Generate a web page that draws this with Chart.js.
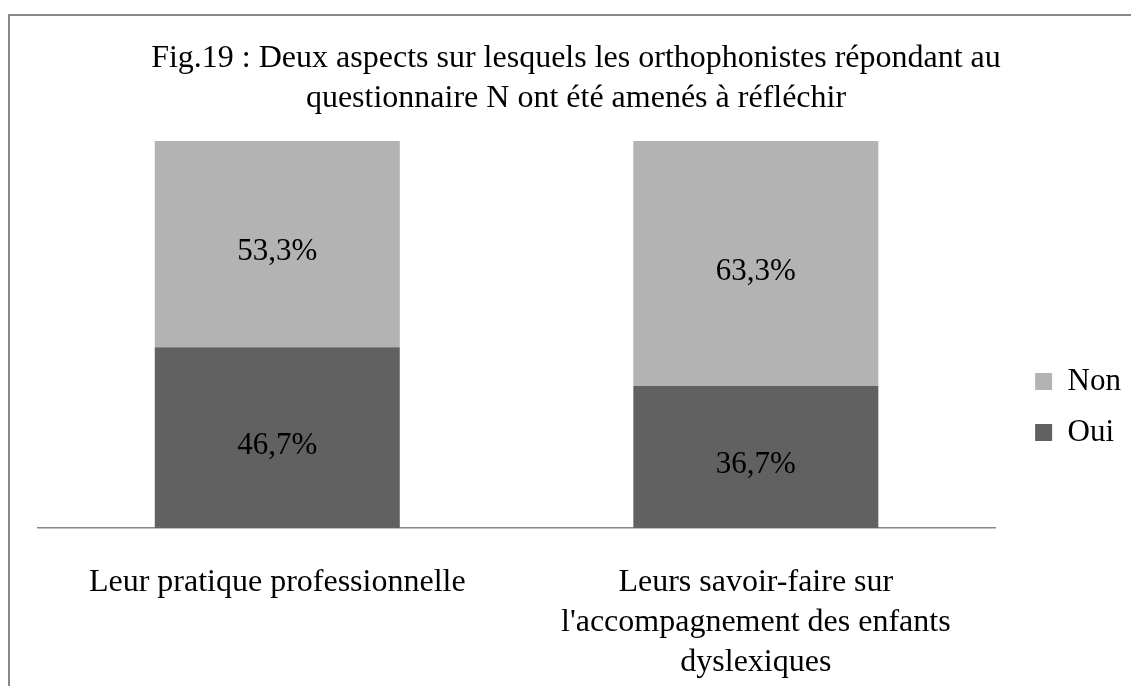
<!DOCTYPE html>
<html>
<head>
<meta charset="utf-8">
<script src="https://cdn.jsdelivr.net/npm/chart.js@4/dist/chart.umd.min.js"></script>
<style>
  html, body { margin: 0; padding: 0; background: #ffffff; overflow: hidden; }
  #wrap { position: relative; width: 1131px; height: 686px; overflow: hidden; }
  #frame { position: absolute; left: 8px; top: 14px; width: 1200px; height: 800px;
           border-left: 2px solid #888888; border-top: 2px solid #888888; box-sizing: border-box; }
  canvas { position: absolute; left: 0; top: 0; }
</style>
</head>
<body>
<div id="wrap">
  <div id="frame"></div>
  <canvas id="c" width="1131" height="718"></canvas>
</div>
<script>
const titleLines = ["Fig.19 : Deux aspects sur lesquels les orthophonistes répondant au", "questionnaire N ont été amenés à réfléchir"];
const categories = [
  "Leur pratique professionnelle",
  ["Leurs savoir-faire sur", "l'accompagnement des enfants", "dyslexiques"]
];
const seriesNames = ["Oui", "Non"];
const ouiValues = [46.7, 36.7];
const nonValues = [53.3, 63.3];

const FONT = "'Liberation Serif', 'Times New Roman', serif";

const valueLabels = {
  id: 'valueLabels',
  afterDatasetsDraw(chart) {
    const ctx = chart.ctx;
    ctx.save();
    ctx.font = "31px " + FONT;
    ctx.fillStyle = '#000000';
    ctx.textAlign = 'center';
    ctx.textBaseline = 'middle';
    chart.data.datasets.forEach((ds, di) => {
      const meta = chart.getDatasetMeta(di);
      meta.data.forEach((el, i) => {
        const p = el.getProps(['x', 'y', 'base'], true);
        const txt = ds.data[i].toFixed(1).replace('.', ',') + '%';
        ctx.fillText(txt, p.x, (p.y + p.base) / 2 + 8);
      });
    });
    ctx.restore();
  }
};

new Chart(document.getElementById('c'), {
  type: 'bar',
  data: {
    labels: categories,
    datasets: [
      { label: seriesNames[0], data: ouiValues, backgroundColor: '#616161', borderWidth: 0,
        barPercentage: 0.512, categoryPercentage: 1.0 },
      { label: seriesNames[1], data: nonValues, backgroundColor: '#b3b3b3', borderWidth: 0,
        barPercentage: 0.512, categoryPercentage: 1.0 }
    ]
  },
  options: {
    responsive: false,
    animation: false,
    devicePixelRatio: 1,
    layout: { padding: { left: 21, right: 0, top: 0, bottom: 0 } },
    plugins: {
      title: {
        display: true,
        text: titleLines,
        color: '#000000',
        font: { family: FONT, size: 32, weight: 'normal', lineHeight: 1.25 },
        padding: { top: 39, bottom: 22 }
      },
      legend: {
        display: true,
        position: 'right',
        align: 'start',
        reverse: true,
        title: { display: true, text: ' ', font: { size: 10, lineHeight: 1.2 }, padding: { top: 334, bottom: 0 } },
        labels: {
          color: '#000000',
          font: { family: FONT, size: 31 },
          boxWidth: 17,
          boxHeight: 17,
          padding: 20
        }
      },
      tooltip: { enabled: false }
    },
    scales: {
      x: {
        stacked: true,
        grid: { display: false, drawTicks: false },
        border: { display: true, color: '#888888', width: 1.5 },
        ticks: {
          color: '#000000',
          font: { family: FONT, size: 32, lineHeight: 1.25 },
          maxRotation: 0, minRotation: 0, autoSkip: false, padding: 35
        }
      },
      y: {
        stacked: true,
        display: true,
        min: 0,
        max: 100,
        grid: { display: false, drawTicks: false },
        border: { display: false },
        ticks: { display: false },
        afterFit: (scale) => { scale.width = 17; }
      },
      spacer: {
        type: 'linear',
        position: 'right',
        display: true,
        grid: { display: false, drawTicks: false },
        border: { display: false },
        ticks: { display: false },
        afterFit: (scale) => { scale.width = 20; }
      }
    }
  },
  plugins: [valueLabels]
});
</script>
</body>
</html>
